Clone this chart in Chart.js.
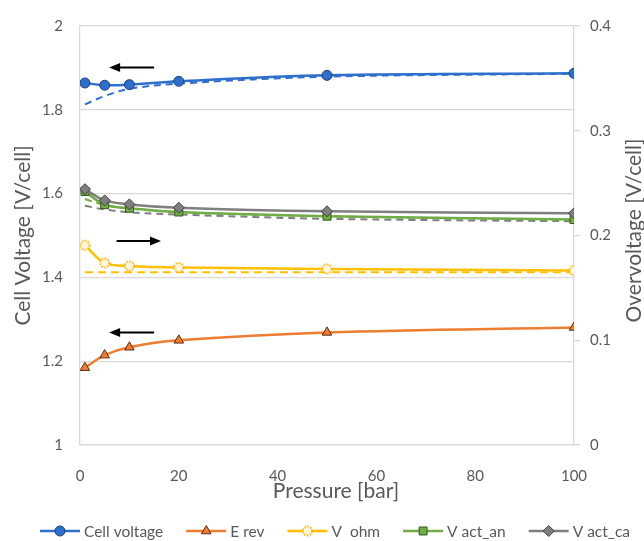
<!DOCTYPE html>
<html>
<head>
<meta charset="utf-8">
<script src="https://cdn.jsdelivr.net/npm/chart.js@4/dist/chart.umd.min.js"></script>
<style>
  html, body { margin: 0; padding: 0; background: #ffffff; }
  #wrap { width: 644px; height: 541px; }
</style>
</head>
<body>
<div id="wrap"><canvas id="c" width="644" height="541"></canvas></div>
<script>
// Pressure steps [bar]
const pressure = [1, 5, 10, 20, 50, 100];

// Left axis series [V/cell]
const cellVoltage = [1.864, 1.8586, 1.860, 1.868, 1.8822, 1.887];
const eRev = [1.1845, 1.2145, 1.2333, 1.2498, 1.2687, 1.2805];

// Right axis series, overvoltages [V/cell]
const vOhm = [0.1907, 0.1738, 0.1709, 0.1694, 0.1681, 0.1665];
const vActAn = [0.2420, 0.2294, 0.2260, 0.2224, 0.2184, 0.2152];
const vActCa = [0.2442, 0.2335, 0.2297, 0.2265, 0.2231, 0.2212];

// Dashed companion curves
const cellVoltageDashed = [1.813, 1.833, 1.850, 1.8626, 1.879, 1.886];
const vOhmDashed = [0.1650, 0.1650, 0.1650, 0.1650, 0.1650, 0.1650];
const vActAnDashed = [0.2348, 0.2290, 0.2258, 0.2222, 0.2183, 0.2150];
const vActCaDashed = [0.2284, 0.2248, 0.2222, 0.2200, 0.2159, 0.2136];

// Tick values and labels
const xTicks = [0, 20, 40, 60, 80, 100];
const xTickLabels = ['0', '20', '40', '60', '80', '100'];
const leftTicks = [1, 1.2, 1.4, 1.6, 1.8, 2];
const leftTickLabels = ['1', '1.2', '1.4', '1.6', '1.8', '2'];
const rightTicks = [0, 0.1, 0.2, 0.3, 0.4];
const rightTickLabels = ['0', '0.1', '0.2', '0.3', '0.4'];

// Direction arrows telling which axis a curve belongs to (data units)
const axisArrows = [
  { from: 15.0, to: 5.9, y: 1.901 },
  { from: 7.4, to: 16.4, y: 1.487 },
  { from: 15.0, to: 5.9, y: 1.2687 }
];

const TEXT = '#595959';
const GRID = '#d9d9d9';
const FONT = 'Lato';
const BLUE = '#2F6FCC';
const ORANGE = '#ED7D31';
const YELLOW = '#FFC000';
const GREEN = '#70AD47';
const GRAY = '#7F7F7F';

function pts(values) {
  return pressure.map((p, i) => ({ x: p, y: values[i] }));
}

// Hollow dotted circle used as the ohmic marker
function ohmMarker() {
  const c = document.createElement('canvas');
  c.width = 13; c.height = 13;
  const g = c.getContext('2d');
  g.beginPath();
  g.arc(6.5, 6.5, 4.6, 0, Math.PI * 2);
  g.fillStyle = '#fff7dc';
  g.fill();
  g.setLineDash([1.7, 1.3]);
  g.lineWidth = 1.7;
  g.strokeStyle = '#f2b000';
  g.stroke();
  return c;
}

const datasets = [
  {
    label: 'Cell voltage', yAxisID: 'y', data: pts(cellVoltage),
    borderColor: BLUE, borderWidth: 2.5,
    pointStyle: 'circle', pointRadius: 5,
    pointBackgroundColor: BLUE, pointBorderColor: '#1E3F75', pointBorderWidth: 1,
    order: 1
  },
  {
    label: 'E rev', yAxisID: 'y', data: pts(eRev),
    borderColor: ORANGE, borderWidth: 2.5,
    pointStyle: 'triangle', pointRadius: 5.5,
    pointBackgroundColor: ORANGE, pointBorderColor: '#5e2c0e', pointBorderWidth: 1,
    order: 2
  },
  {
    label: 'V  ohm', yAxisID: 'y2', data: pts(vOhm),
    borderColor: YELLOW, borderWidth: 2.5,
    pointStyle: ohmMarker(), pointRadius: 5,
    pointBackgroundColor: '#fff7dc', pointBorderColor: '#f2b000', pointBorderWidth: 1,
    order: 3
  },
  {
    label: 'V act_an', yAxisID: 'y2', data: pts(vActAn),
    borderColor: GREEN, borderWidth: 2.5,
    pointStyle: 'rect', pointRadius: 5.6,
    pointBackgroundColor: GREEN, pointBorderColor: '#35561f', pointBorderWidth: 1,
    order: 5
  },
  {
    label: 'V act_ca', yAxisID: 'y2', data: pts(vActCa),
    borderColor: GRAY, borderWidth: 2.5,
    pointStyle: 'rectRot', pointRadius: 5.5,
    pointBackgroundColor: GRAY, pointBorderColor: '#3f3f3f', pointBorderWidth: 1,
    order: 4
  },
  {
    label: 'Cell voltage (dashed)', showInLegend: false, yAxisID: 'y', data: pts(cellVoltageDashed),
    borderColor: BLUE, borderWidth: 2, borderDash: [7, 5], pointRadius: 0, order: 10
  },
  {
    label: 'V ohm (dashed)', showInLegend: false, yAxisID: 'y2', data: pts(vOhmDashed),
    borderColor: YELLOW, borderWidth: 2, borderDash: [8, 5], pointRadius: 0, order: 10
  },
  {
    label: 'V act_an (dashed)', showInLegend: false, yAxisID: 'y2', data: pts(vActAnDashed),
    borderColor: GREEN, borderWidth: 2, borderDash: [7, 5], pointRadius: 0, order: 11
  },
  {
    label: 'V act_ca (dashed)', showInLegend: false, yAxisID: 'y2', data: pts(vActCaDashed),
    borderColor: GRAY, borderWidth: 2, borderDash: [7, 5], pointRadius: 0, order: 12
  }
];

function drawMarker(ctx, d, x, y) {
  ctx.save();
  ctx.fillStyle = d.pointBackgroundColor;
  ctx.strokeStyle = d.pointBorderColor;
  ctx.lineWidth = d.pointBorderWidth || 1;
  ctx.setLineDash([]);
  Chart.helpers.drawPoint(ctx, { pointStyle: d.pointStyle, radius: d.pointRadius, borderWidth: d.pointBorderWidth, rotation: 0 }, x, y);
  ctx.restore();
}

// Axis arrows, the two axis titles drawn by hand and the bottom legend
const decorations = {
  id: 'decorations',
  afterDatasetsDraw(chart) {
    const { ctx, scales } = chart;
    ctx.save();
    ctx.strokeStyle = '#000';
    ctx.fillStyle = '#000';
    ctx.lineWidth = 2;
    axisArrows.forEach(a => {
      const x1 = scales.x.getPixelForValue(a.from);
      const x2 = scales.x.getPixelForValue(a.to);
      const y = scales.y.getPixelForValue(a.y);
      const dir = Math.sign(x2 - x1);
      const head = 11;
      ctx.beginPath();
      ctx.moveTo(x1, y);
      ctx.lineTo(x2 - dir * head * 0.8, y);
      ctx.stroke();
      ctx.beginPath();
      ctx.moveTo(x2, y);
      ctx.lineTo(x2 - dir * head, y - 4.5);
      ctx.lineTo(x2 - dir * head, y + 4.5);
      ctx.closePath();
      ctx.fill();
    });
    ctx.restore();
  },
  afterDraw(chart) {
    const { ctx, chartArea: area } = chart;
    ctx.save();
    ctx.fillStyle = TEXT;
    ctx.textBaseline = 'middle';

    // x axis title
    ctx.font = `21px ${FONT}`;
    ctx.textAlign = 'center';
    ctx.fillText('Pressure [bar]', (area.left + area.right) / 2 + 9, 491);

    // right axis title, reading bottom to top
    ctx.save();
    ctx.translate(634, (area.top + area.bottom) / 2 - 5);
    ctx.rotate(-Math.PI / 2);
    ctx.fillText('Overvoltage [V/cell]', 0, 0);
    ctx.restore();

    // legend
    const items = chart.data.datasets.filter(d => d.showInLegend !== false);
    ctx.font = `15.5px ${FONT}`;
    ctx.textAlign = 'left';
    const symW = 40, gap = 4, spacing = 23;
    const widths = items.map(d => symW + gap + ctx.measureText(d.label).width);
    const total = widths.reduce((s, w) => s + w, 0) + spacing * (items.length - 1);
    let x = 335 - total / 2;
    const y = 531;
    items.forEach((d, i) => {
      ctx.save();
      ctx.strokeStyle = d.borderColor;
      ctx.lineWidth = d.borderWidth;
      ctx.beginPath();
      ctx.moveTo(x, y);
      ctx.lineTo(x + symW, y);
      ctx.stroke();
      ctx.restore();
      drawMarker(ctx, d, x + symW / 2, y);
      ctx.fillStyle = TEXT;
      ctx.fillText(d.label, x + symW + gap, y + 1);
      x += widths[i] + spacing;
    });
    ctx.restore();
  }
};

new Chart(document.getElementById('c'), {
  type: 'line',
  data: { datasets },
  plugins: [decorations],
  options: {
    responsive: false,
    animation: false,
    layout: { padding: { top: 21, bottom: 36, left: 0, right: 0 } },
    elements: { line: { tension: 0.35 } },
    plugins: { legend: { display: false }, tooltip: { enabled: false } },
    scales: {
      x: {
        type: 'linear', min: 0, max: 100,
        afterBuildTicks: s => { s.ticks = xTicks.map(v => ({ value: v })); },
        afterFit: s => { s.height = 60; },
        grid: { display: false },
        border: { display: true, color: GRID, width: 1.3 },
        ticks: {
          color: TEXT, font: { family: FONT, size: 15 }, padding: 14,
          maxRotation: 0, callback: (v, i) => xTickLabels[i]
        }
      },
      y: {
        position: 'left', min: 1, max: 2,
        afterBuildTicks: s => { s.ticks = leftTicks.map(v => ({ value: v })); },
        afterFit: s => { s.width = 80; },
        grid: { color: GRID, lineWidth: 1.3, drawTicks: false },
        border: { display: true, color: GRID, width: 1.3 },
        ticks: { color: TEXT, font: { family: FONT, size: 15 }, padding: 17, callback: (v, i) => leftTickLabels[i] },
        title: {
          display: true, text: 'Cell Voltage [V/cell]', color: TEXT,
          font: { family: FONT, size: 21 }, padding: { top: 11, bottom: 0 }
        }
      },
      y2: {
        position: 'right', min: 0, max: 0.4,
        afterBuildTicks: s => { s.ticks = rightTicks.map(v => ({ value: v })); },
        afterFit: s => { s.width = 70; },
        grid: { drawOnChartArea: false, drawTicks: true, tickLength: 6, color: GRID, lineWidth: 1.3 },
        border: { display: true, color: GRID, width: 1.3 },
        ticks: { color: TEXT, font: { family: FONT, size: 15 }, padding: 10, callback: (v, i) => rightTickLabels[i] }
      }
    }
  }
});
</script>
</body>
</html>
